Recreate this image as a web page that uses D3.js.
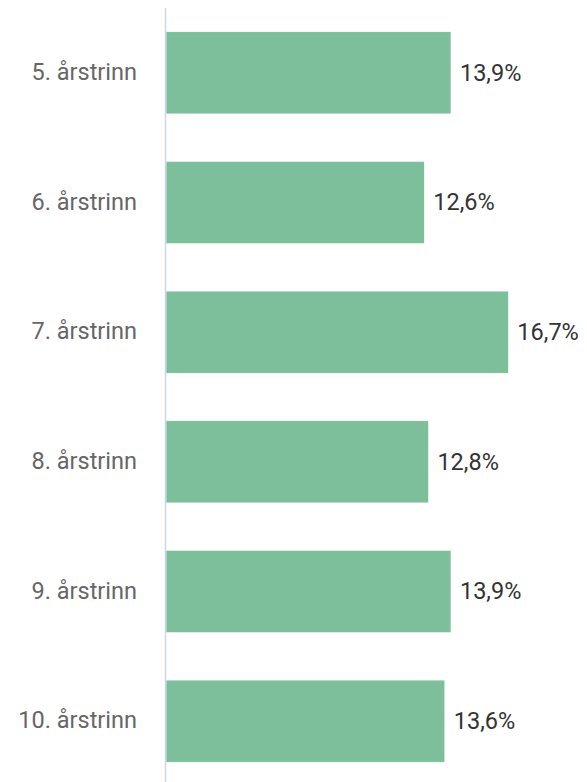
<!DOCTYPE html>
<html>
<head>
<meta charset="utf-8">
<script src="https://cdn.jsdelivr.net/npm/d3@7"></script>
<style>
  body { margin: 0; background: #fff; }
  text { font-family: Roboto, "Noto Sans", sans-serif; }
</style>
</head>
<body>
<script>
var width = 587, height = 782;

// data
var categories = ["5. årstrinn", "6. årstrinn", "7. årstrinn", "8. årstrinn", "9. årstrinn", "10. årstrinn"];
var values = [13.9, 12.6, 16.7, 12.8, 13.9, 13.6];

var svg = d3.select("body")
            .append("svg")
            .attr("width", width)
            .attr("height", height);

var x = d3.scaleLinear()
          .domain([0, 20])
          .range([166, 576]);

var y = d3.scaleBand()
          .domain(categories)
          .range([8, 786])
          .paddingInner(0.367)
          .paddingOuter(0.1835);

// bars
svg.append("g")
   .selectAll("rect")
   .data(values)
   .enter()
   .append("rect")
   .attr("x", x(0))
   .attr("y", function(d, i) { return y(categories[i]); })
   .attr("width", function(d) { return x(d) - x(0); })
   .attr("height", y.bandwidth())
   .attr("fill", "#7dbe9b")
   .attr("stroke", "#fff")
   .attr("stroke-width", 0.5);

// category axis line
svg.append("line")
   .attr("x1", 165.5)
   .attr("x2", 165.5)
   .attr("y1", 8)
   .attr("y2", height)
   .attr("stroke", "#ccd6eb")
   .attr("stroke-width", 1.5);

// category labels
svg.append("g")
   .selectAll("text")
   .data(categories)
   .enter()
   .append("text")
   .attr("x", 137)
   .attr("y", function(d) { return y(d) + y.bandwidth() / 2; })
   .attr("dy", "0.31em")
   .attr("text-anchor", "end")
   .attr("font-size", "23.5px")
   .attr("fill", "#666666")
   .text(function(d) { return d; });

// value labels
svg.append("g")
   .selectAll("text")
   .data(values)
   .enter()
   .append("text")
   .attr("x", function(d) { return x(d) + 9; })
   .attr("y", function(d, i) { return y(categories[i]) + y.bandwidth() / 2; })
   .attr("dy", "0.33em")
   .attr("font-size", "23.5px")
   .attr("fill", "#333333")
   .text(function(d) { return d.toFixed(1).replace(".", ",") + "%"; });
</script>
</body>
</html>
